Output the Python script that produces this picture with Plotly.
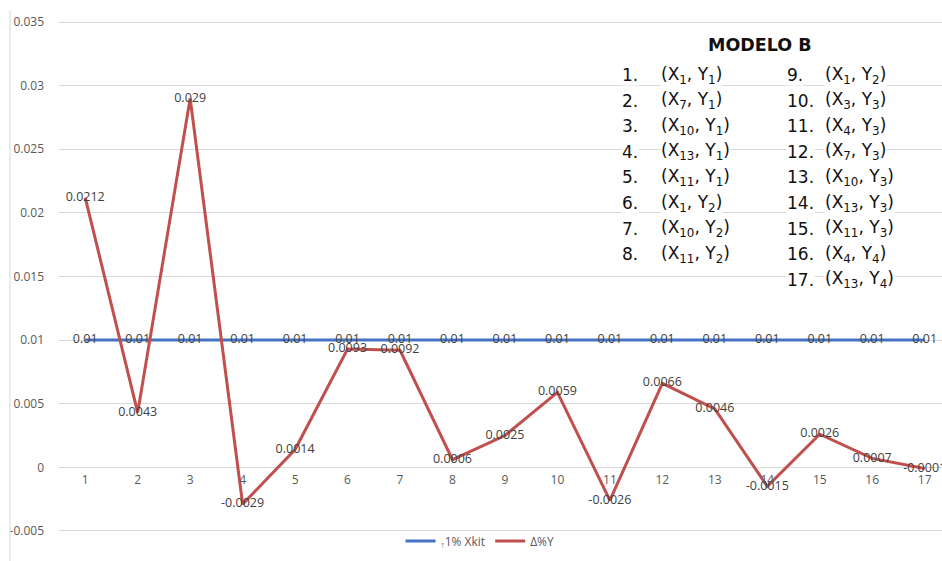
import plotly.graph_objects as go

# ---------------- data ----------------
categories = list(range(1, 18))
xkit_1pct = [0.01] * 17
delta_pct_y = [0.0212, 0.0043, 0.029, -0.0029, 0.0014, 0.0093, 0.0092, 0.0006,
               0.0025, 0.0059, -0.0026, 0.0066, 0.0046, -0.0015, 0.0026, 0.0007, -0.0001]
y_tickvals = [-0.005, 0, 0.005, 0.01, 0.015, 0.02, 0.025, 0.03, 0.035]
y_ticktext = ["-0.005", "0", "0.005", "0.01", "0.015", "0.02", "0.025", "0.03", "0.035"]

box_title = "MODELO B"
col1 = ["(X<sub>1</sub>, Y<sub>1</sub>)", "(X<sub>7</sub>, Y<sub>1</sub>)", "(X<sub>10</sub>, Y<sub>1</sub>)",
        "(X<sub>13</sub>, Y<sub>1</sub>)", "(X<sub>11</sub>, Y<sub>1</sub>)", "(X<sub>1</sub>, Y<sub>2</sub>)",
        "(X<sub>10</sub>, Y<sub>2</sub>)", "(X<sub>11</sub>, Y<sub>2</sub>)"]
col2 = ["(X<sub>1</sub>, Y<sub>2</sub>)", "(X<sub>3</sub>, Y<sub>3</sub>)", "(X<sub>4</sub>, Y<sub>3</sub>)",
        "(X<sub>7</sub>, Y<sub>3</sub>)", "(X<sub>10</sub>, Y<sub>3</sub>)", "(X<sub>13</sub>, Y<sub>3</sub>)",
        "(X<sub>11</sub>, Y<sub>3</sub>)", "(X<sub>4</sub>, Y<sub>4</sub>)", "(X<sub>13</sub>, Y<sub>4</sub>)"]

# ---------------- layout geometry ----------------
W, H = 942, 561
ML, MR, MT, MB = 59, 0, 3, 11
YMIN, YMAX = -0.0065, 0.0365
PW, PH = W - ML - MR, H - MT - MB


def px(x, y):
    return (x - ML) / PW, (H - MB - y) / PH


GRAY = "#595959"
FONT = "Open Sans"
BOXFONT = dict(family="DejaVu Sans", size=17, color="#111111")

fig = go.Figure()
fig.add_trace(go.Scatter(
    x=categories, y=xkit_1pct, mode="lines+text",
    name="<sub>↑</sub>1% Xkit",
    line=dict(color="#4472C4", width=3),
    text=[str(v) for v in xkit_1pct], textposition="middle center",
    textfont=dict(family=FONT, size=12.5, color="#404040"),
    cliponaxis=False,
))
fig.add_trace(go.Scatter(
    x=categories, y=delta_pct_y, mode="lines+text",
    name="Δ%Y",
    line=dict(color="#C0504D", width=3),
    text=[str(v) for v in delta_pct_y], textposition="middle center",
    textfont=dict(family=FONT, size=12.5, color="#404040"),
    cliponaxis=False,
))

annotations = []
tx, ty = px(760, 45)
annotations.append(dict(xref="paper", yref="paper", x=tx, y=ty, text="<b>" + box_title + "</b>",
                        showarrow=False, xanchor="center", yanchor="middle",
                        font=dict(family="DejaVu Sans", size=17.5, color="#111111"), bgcolor="white"))
row_y0, row_dy = 75, 25.6
for i, t in enumerate(col1):
    yy = row_y0 + i * row_dy
    nx, ny = px(621, yy)
    annotations.append(dict(xref="paper", yref="paper", x=nx, y=ny, text=f"{i+1}.",
                            showarrow=False, xanchor="left", yanchor="middle",
                            font=BOXFONT, bgcolor="white", borderpad=0))
    nx, ny = px(660, yy)
    annotations.append(dict(xref="paper", yref="paper", x=nx, y=ny, text=t,
                            showarrow=False, xanchor="left", yanchor="middle",
                            font=BOXFONT, bgcolor="white", borderpad=0))
for i, t in enumerate(col2):
    yy = row_y0 + i * row_dy
    nx, ny = px(786, yy)
    annotations.append(dict(xref="paper", yref="paper", x=nx, y=ny, text=f"{i+9}.",
                            showarrow=False, xanchor="left", yanchor="middle",
                            font=BOXFONT, bgcolor="white", borderpad=0))
    nx, ny = px(824, yy)
    annotations.append(dict(xref="paper", yref="paper", x=nx, y=ny, text=t,
                            showarrow=False, xanchor="left", yanchor="middle",
                            font=BOXFONT, bgcolor="white", borderpad=0))

bx0, by0 = px(10, 10)
bx1, by1 = px(10, 561)
lx, ly = px(480, 541)

fig.update_layout(
    width=W, height=H,
    margin=dict(l=ML, r=MR, t=MT, b=MB),
    paper_bgcolor="white", plot_bgcolor="white",
    font=dict(family=FONT, size=12, color=GRAY),
    showlegend=True,
    legend=dict(orientation="h", x=lx, y=ly, xanchor="center", yanchor="middle",
                font=dict(family=FONT, size=12, color=GRAY), bgcolor="rgba(0,0,0,0)"),
    xaxis=dict(range=[0.5, 17.33], tickvals=categories, ticktext=[str(c) for c in categories],
               showgrid=False, zeroline=False, showline=False, ticks="",
               anchor="free", position=(0 - YMIN) / (YMAX - YMIN),
               tickfont=dict(family=FONT, size=12, color=GRAY), ticklabelstandoff=4),
    yaxis=dict(range=[YMIN, YMAX], tickvals=y_tickvals, ticktext=y_ticktext,
               showgrid=True, gridcolor="#d9d9d9", gridwidth=1, zeroline=False,
               showline=False, ticks="", ticklabelstandoff=14,
               tickfont=dict(family=FONT, size=12, color=GRAY)),
    annotations=annotations,
    shapes=[dict(type="line", xref="paper", yref="paper", x0=bx0, x1=bx1, y0=by0, y1=by1,
                 line=dict(color="#d9d9d9", width=1))],
)

fig.write_html("out.html", config={"displayModeBar": False},
               post_script="document.body.style.margin='0px';document.body.style.overflow='hidden';")
